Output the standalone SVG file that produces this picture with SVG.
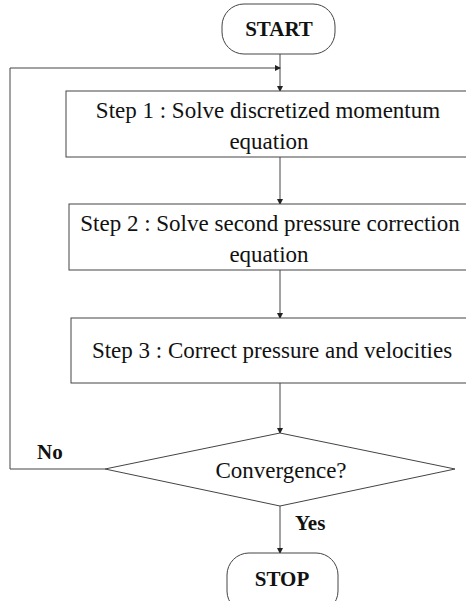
<svg xmlns="http://www.w3.org/2000/svg" width="466" height="601" viewBox="0 0 466 601">
<style>
.s{fill:#fff;stroke:#444;stroke-width:1}
.c{fill:none;stroke:#444;stroke-width:1}
.t{font-family:"Liberation Serif","Times New Roman",serif;font-size:23px;fill:#111;text-anchor:middle}
.b{font-family:"Liberation Serif","Times New Roman",serif;font-size:21px;font-weight:bold;fill:#111}
</style>
<defs>
<marker id="ah" markerWidth="6" markerHeight="6" refX="5" refY="3" orient="auto" markerUnits="userSpaceOnUse">
<path d="M0,0 L6,3 L0,6 z" fill="#222"/>
</marker>
</defs>
<rect width="466" height="601" fill="#fff"/>
<g id="connectors">
<path class="c" d="M280,54 V91" marker-end="url(#ah)"/>
<path class="c" d="M105,469 H10 V68 H280" marker-end="url(#ah)"/>
<path class="c" d="M280,157 V204" marker-end="url(#ah)"/>
<path class="c" d="M280,270 V318" marker-end="url(#ah)"/>
<path class="c" d="M280,383 V433" marker-end="url(#ah)"/>
<path class="c" d="M280,506 V553" marker-end="url(#ah)"/>
</g>
<g id="start">
<rect class="s" x="222" y="4" width="113" height="50" rx="22"/>
<text class="b" x="279" y="36" text-anchor="middle">START</text>
</g>
<g id="step1">
<rect class="s" x="66" y="91" width="410" height="66"/>
<text class="t" x="268" y="118">Step 1 : Solve discretized momentum</text>
<text class="t" x="269" y="149">equation</text>
</g>
<g id="step2">
<rect class="s" x="69" y="204" width="410" height="66"/>
<text class="t" x="270" y="231">Step 2 : Solve second pressure correction</text>
<text class="t" x="269" y="262">equation</text>
</g>
<g id="step3">
<rect class="s" x="71" y="318" width="410" height="65"/>
<text class="t" x="272" y="358">Step 3 : Correct pressure and velocities</text>
</g>
<g id="decision">
<polygon class="s" points="280,433 455,469 280,506 105,469"/>
<text class="t" x="281" y="478">Convergence?</text>
</g>
<g id="stop">
<rect class="s" x="227" y="553" width="111" height="60" rx="22"/>
<text class="b" x="282" y="586" text-anchor="middle">STOP</text>
</g>
<text class="b" x="37" y="459">No</text>
<text class="b" x="295" y="530">Yes</text>
</svg>
